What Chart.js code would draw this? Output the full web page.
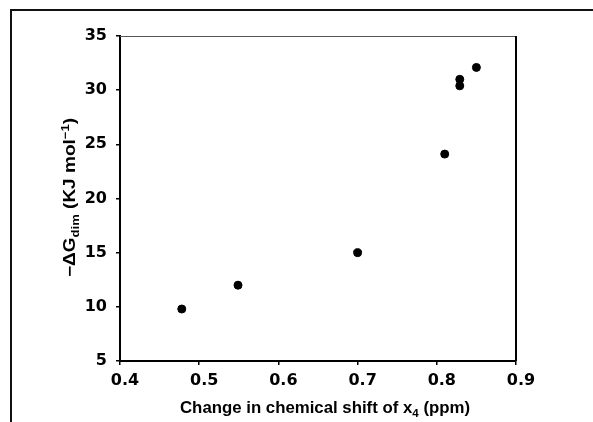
<!DOCTYPE html>
<html><head><meta charset="utf-8">
<script src="https://cdn.jsdelivr.net/npm/chart.js@4/dist/chart.umd.min.js"></script>
<style>html,body{margin:0;padding:0;background:#fff}canvas{display:block}</style>
</head><body>
<canvas id="c" width="593" height="422"></canvas>
<script>
const shiftX = [0.478, 0.549, 0.700, 0.810, 0.829, 0.829, 0.850];
const deltaG = [9.8, 12.0, 15.0, 24.1, 31.0, 30.4, 32.1];
const xTicks = [0.4, 0.5, 0.6, 0.7, 0.8, 0.9];
const yTicks = [5, 10, 15, 20, 25, 30, 35];
const xTitle = ["Change in chemical shift of x", "4", " (ppm)"];
const yTitle = ["\u2212\u0394G", "dim", " (KJ mol", "\u22121", ")"];

const FONT = "'DejaVu Sans', 'Liberation Sans', Arial, sans-serif";
const TFONT = "'Liberation Sans', Arial, sans-serif";

function drawRich(ctx, parts, cx, by, targetW) {
  let tw = 0;
  parts.forEach(p => { ctx.font = p.f; p.w = ctx.measureText(p.t).width; tw += p.w; });
  const sx = targetW / tw;
  ctx.save();
  ctx.translate(cx - targetW / 2, by);
  ctx.scale(sx, 1);
  let x = 0;
  parts.forEach(p => { ctx.font = p.f; ctx.fillText(p.t, x, p.dy); x += p.w; });
  ctx.restore();
}

const deco = {
  id: 'deco',
  afterDraw(chart) {
    const ctx = chart.ctx, a = chart.chartArea;
    ctx.save();
    ctx.strokeStyle = '#111'; ctx.lineWidth = 2;
    ctx.beginPath(); ctx.moveTo(11, 422); ctx.lineTo(11, 10); ctx.lineTo(593, 10); ctx.stroke();
    ctx.strokeStyle = '#555'; ctx.lineWidth = 1;
    ctx.beginPath(); ctx.moveTo(a.left, a.top + 0.5); ctx.lineTo(a.right, a.top + 0.5); ctx.stroke();
    ctx.strokeStyle = '#000'; ctx.lineWidth = 2;
    ctx.beginPath(); ctx.moveTo(a.right, a.top); ctx.lineTo(a.right, a.bottom); ctx.stroke();
    ctx.fillStyle = '#000';
    ctx.textBaseline = 'alphabetic'; ctx.textAlign = 'left';
    const big = 'bold 16px ' + TFONT, small = 'bold 11px ' + TFONT;
    drawRich(ctx, [
      { t: xTitle[0], f: big, dy: 0 }, { t: xTitle[1], f: small, dy: 4 }, { t: xTitle[2], f: big, dy: 0 }
    ], 325, 413, 290);
    ctx.save();
    ctx.translate(75, 197.5); ctx.rotate(-Math.PI / 2);
    drawRich(ctx, [
      { t: yTitle[0], f: big, dy: 0 }, { t: yTitle[1], f: small, dy: 4 }, { t: yTitle[2], f: big, dy: 0 },
      { t: yTitle[3], f: small, dy: -6 }, { t: yTitle[4], f: big, dy: 0 }
    ], 0, 0, 159);
    ctx.restore();
    ctx.restore();
  }
};

new Chart(document.getElementById('c'), {
  type: 'scatter',
  data: { datasets: [{
    data: shiftX.map((v, i) => ({ x: v, y: deltaG[i] })),
    backgroundColor: '#000', borderColor: '#000', pointRadius: 4, pointHoverRadius: 4
  }]},
  options: {
    responsive: false, animation: false, events: [],
    layout: { padding: { left: 0, right: 77, top: 36, bottom: 0 } },
    plugins: { legend: { display: false }, tooltip: { enabled: false } },
    scales: {
      x: {
        type: 'linear', min: 0.4, max: 0.9,
        afterBuildTicks: s => { s.ticks = xTicks.map(v => ({ value: v })); },
        afterFit: s => { s.height = 61; },
        border: { display: true, color: '#000', width: 2 },
        grid: { display: true, drawOnChartArea: false, drawTicks: true, tickLength: 4, color: '#000', lineWidth: 1.5 },
        ticks: { color: '#000', padding: 6, labelOffset: 5, maxRotation: 0, font: { family: FONT, size: 16, weight: 'bold' }, callback: v => v.toFixed(1) }
      },
      y: {
        type: 'linear', min: 5, max: 35,
        afterBuildTicks: s => { s.ticks = yTicks.map(v => ({ value: v })); },
        afterFit: s => { s.width = 120; },
        border: { display: true, color: '#000', width: 2 },
        grid: { display: true, drawOnChartArea: false, drawTicks: true, tickLength: 4, color: '#000', lineWidth: 1.5 },
        ticks: { color: '#000', padding: 9, font: { family: FONT, size: 16, weight: 'bold' }, callback: v => String(v) }
      }
    }
  },
  plugins: [deco]
});
</script>
</body></html>
